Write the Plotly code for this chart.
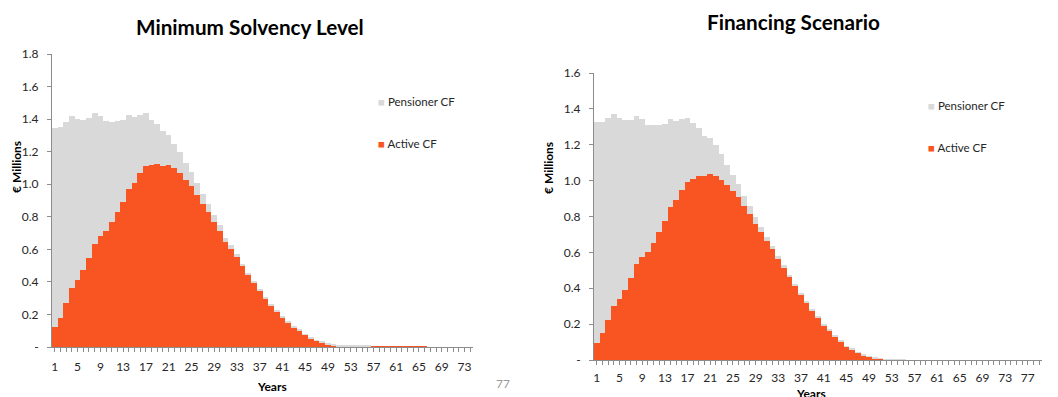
import plotly.graph_objects as go

# ---------------- data ----------------
years_left = list(range(1, 75))
active_left = [0.12, 0.18, 0.27, 0.365, 0.41, 0.47, 0.545, 0.635, 0.68, 0.71, 0.77, 0.83, 0.89, 0.97, 1.01,
               1.07, 1.115, 1.12, 1.125, 1.115, 1.12, 1.10, 1.07, 1.025, 0.99, 0.935, 0.88, 0.83, 0.77, 0.715,
               0.645, 0.605, 0.555, 0.495, 0.445,
               0.395, 0.346, 0.30, 0.254, 0.219, 0.182, 0.15, 0.119, 0.10, 0.074, 0.053, 0.039, 0.027, 0.016,
               0.009, 0.005,
               0.004, 0.004, 0.004, 0.005, 0.006, 0.006, 0.006, 0.006, 0.006, 0.006, 0.006, 0.006, 0.006, 0.006,
               0.006,
               0, 0, 0, 0, 0, 0, 0, 0]
pensioner_left = [1.225, 1.17, 1.115, 1.055, 0.99, 0.925, 0.86, 0.80, 0.74, 0.68, 0.615, 0.56, 0.505, 0.455,
                  0.405, 0.355, 0.32, 0.275, 0.245, 0.215, 0.18, 0.15, 0.125, 0.105,
                  0.085, 0.07, 0.06, 0.05, 0.04, 0.032, 0.026, 0.021, 0.017, 0.014, 0.012,
                  0.010, 0.009, 0.008, 0.007, 0.007, 0.006, 0.006, 0.005, 0.005, 0.005, 0.004, 0.004, 0.004,
                  0.004, 0.004, 0.004, 0.003, 0.003, 0.003, 0.002, 0.002,
                  0, 0, 0, 0, 0, 0, 0, 0, 0, 0, 0, 0, 0, 0, 0, 0, 0, 0]

years_right = list(range(1, 80))
active_right = [0.097, 0.149, 0.223, 0.30, 0.339, 0.39, 0.456, 0.536, 0.575, 0.603, 0.655, 0.716, 0.774, 0.854,
                0.893, 0.949, 0.993, 1.01, 1.025, 1.025, 1.036, 1.025, 1.006, 0.975, 0.941, 0.906, 0.856, 0.815,
                0.761, 0.713, 0.664,
                0.618, 0.563, 0.515, 0.465, 0.413, 0.364, 0.322, 0.275, 0.236, 0.195, 0.164, 0.130, 0.104, 0.074,
                0.059, 0.041, 0.026, 0.019, 0.011, 0.006, 0.003, 0.001] + [0] * 26
pensioner_right = [1.23, 1.178, 1.124, 1.073, 1.01, 0.948, 0.884, 0.822, 0.768, 0.705, 0.653, 0.592, 0.539,
                   0.489, 0.437, 0.394, 0.356, 0.311, 0.266, 0.225, 0.199, 0.173, 0.14, 0.112, 0.092, 0.073,
                   0.059, 0.045, 0.037, 0.031, 0.024,
                   0.019, 0.015, 0.012, 0.010, 0.009, 0.008, 0.007, 0.006, 0.006, 0.005, 0.005, 0.004, 0.004,
                   0.004, 0.003, 0.003, 0.003, 0.003, 0.003, 0.002, 0.002, 0.002, 0.002, 0.001] + [0] * 24

titles = ["Minimum Solvency Level", "Financing Scenario"]
series_names = ["Active CF", "Pensioner CF"]
y_ticks_left = [0, 0.2, 0.4, 0.6, 0.8, 1.0, 1.2, 1.4, 1.6, 1.8]
y_ticks_right = [0, 0.2, 0.4, 0.6, 0.8, 1.0, 1.2, 1.4, 1.6]

# ---------------- style ----------------
ORANGE = "#F95522"
GREY = "#D9D9D9"
AXIS = "#8C8C8C"
TXT = "#262626"
FONT = "Lato"

W, H = 1058, 397
OFF = 8  # page body margin offset


def px(x):
    return (x - OFF) / W


def py(y):
    return 1 - (y - OFF) / H


fig = go.Figure()

fig.add_trace(go.Bar(x=years_left, y=active_left, name=series_names[0], marker_color=ORANGE,
                     marker_line_width=0, xaxis="x", yaxis="y", showlegend=False))
fig.add_trace(go.Bar(x=years_left, y=pensioner_left, name=series_names[1], marker_color=GREY,
                     marker_line_width=0, xaxis="x", yaxis="y", showlegend=False))
fig.add_trace(go.Bar(x=years_right, y=active_right, name=series_names[0], marker_color=ORANGE,
                     marker_line_width=0, xaxis="x2", yaxis="y2", showlegend=False))
fig.add_trace(go.Bar(x=years_right, y=pensioner_right, name=series_names[1], marker_color=GREY,
                     marker_line_width=0, xaxis="x2", yaxis="y2", showlegend=False))


def xaxis_cfg(years, domain, anchor, standoff):
    return dict(domain=domain, anchor=anchor, range=[0.5, len(years) + 0.5], automargin=False,
                tickmode="array", tickvals=years,
                ticktext=[str(v) if (v - 1) % 4 == 0 else "" for v in years],
                ticks="outside", ticklen=4, tickcolor=AXIS, tickwidth=1, ticklabelstandoff=standoff,
                showline=True, linecolor=AXIS, linewidth=1, showgrid=False, zeroline=False,
                tickfont=dict(family=FONT, size=12, color=TXT), tickangle=0)


def yaxis_cfg(ticks, domain, anchor):
    return dict(domain=domain, anchor=anchor, range=[0, ticks[-1]], automargin=False,
                tickmode="array", tickvals=ticks,
                ticktext=["-" if t == 0 else f"{t:.1f}" for t in ticks],
                ticks="outside", ticklen=4, tickcolor=AXIS, tickwidth=1, ticklabelstandoff=6,
                showline=True, linecolor=AXIS, linewidth=1, showgrid=False, zeroline=False,
                tickfont=dict(family=FONT, size=12, color=TXT))


fig.update_layout(
    template="none",
    width=W, height=H, margin=dict(l=0, r=0, t=0, b=0, pad=0, autoexpand=False),
    paper_bgcolor="white", plot_bgcolor="white",
    barmode="stack", bargap=0,
    xaxis=xaxis_cfg(years_left, [px(52), px(473)], "y", 5),
    yaxis=yaxis_cfg(y_ticks_left, [py(347), py(54)], "x"),
    xaxis2=xaxis_cfg(years_right, [px(594), px(1042)], "y2", 3),
    yaxis2=yaxis_cfg(y_ticks_right, [py(360), py(73)], "x2"),
    showlegend=False,
)

ann = []
# titles
ann.append(dict(text=f"<b>{titles[0]}</b>", x=px(250), y=py(27), xref="paper", yref="paper",
                showarrow=False, xanchor="center", yanchor="middle",
                font=dict(family=FONT, size=20.7, color="black")))
ann.append(dict(text=f"<b>{titles[1]}</b>", x=px(793), y=py(OFF), xref="paper", yref="paper",
                showarrow=False, xanchor="center", yanchor="top",
                font=dict(family=FONT, size=20.7, color="black")))
# axis titles
for xpix, ypix in [(16, 167), (549, 168)]:
    ann.append(dict(text="<b>€ Millions</b>", x=px(xpix), y=py(ypix), xref="paper", yref="paper",
                    showarrow=False, textangle=-90, xanchor="center", yanchor="middle",
                    font=dict(family=FONT, size=12, color="black")))
for xpix, ypix in [(272, 386), (811, 393)]:
    ann.append(dict(text="<b>Years</b>", x=px(xpix), y=py(ypix), xref="paper", yref="paper",
                    showarrow=False, xanchor="center", yanchor="middle",
                    font=dict(family=FONT, size=12, color="black")))
# legends
for (xpix, y1, y2) in [(376, 102, 143), (926, 106, 148)]:
    ann.append(dict(text=f"<span style='color:{GREY}'>■</span> {series_names[1]}", x=px(xpix), y=py(y1),
                    xref="paper", yref="paper", showarrow=False, xanchor="left", yanchor="middle",
                    font=dict(family=FONT, size=11.5, color=TXT)))
    ann.append(dict(text=f"<span style='color:{ORANGE}'>■</span> {series_names[0]}", x=px(xpix), y=py(y2),
                    xref="paper", yref="paper", showarrow=False, xanchor="left", yanchor="middle",
                    font=dict(family=FONT, size=11.5, color=TXT)))
# cropped fragment
ann.append(dict(text="77", x=px(503), y=py(383), xref="paper", yref="paper", showarrow=False,
                xanchor="center", yanchor="middle", font=dict(family=FONT, size=12, color="#9a9a9a")))
fig.update_layout(annotations=ann)

fig.write_html("out.html")
